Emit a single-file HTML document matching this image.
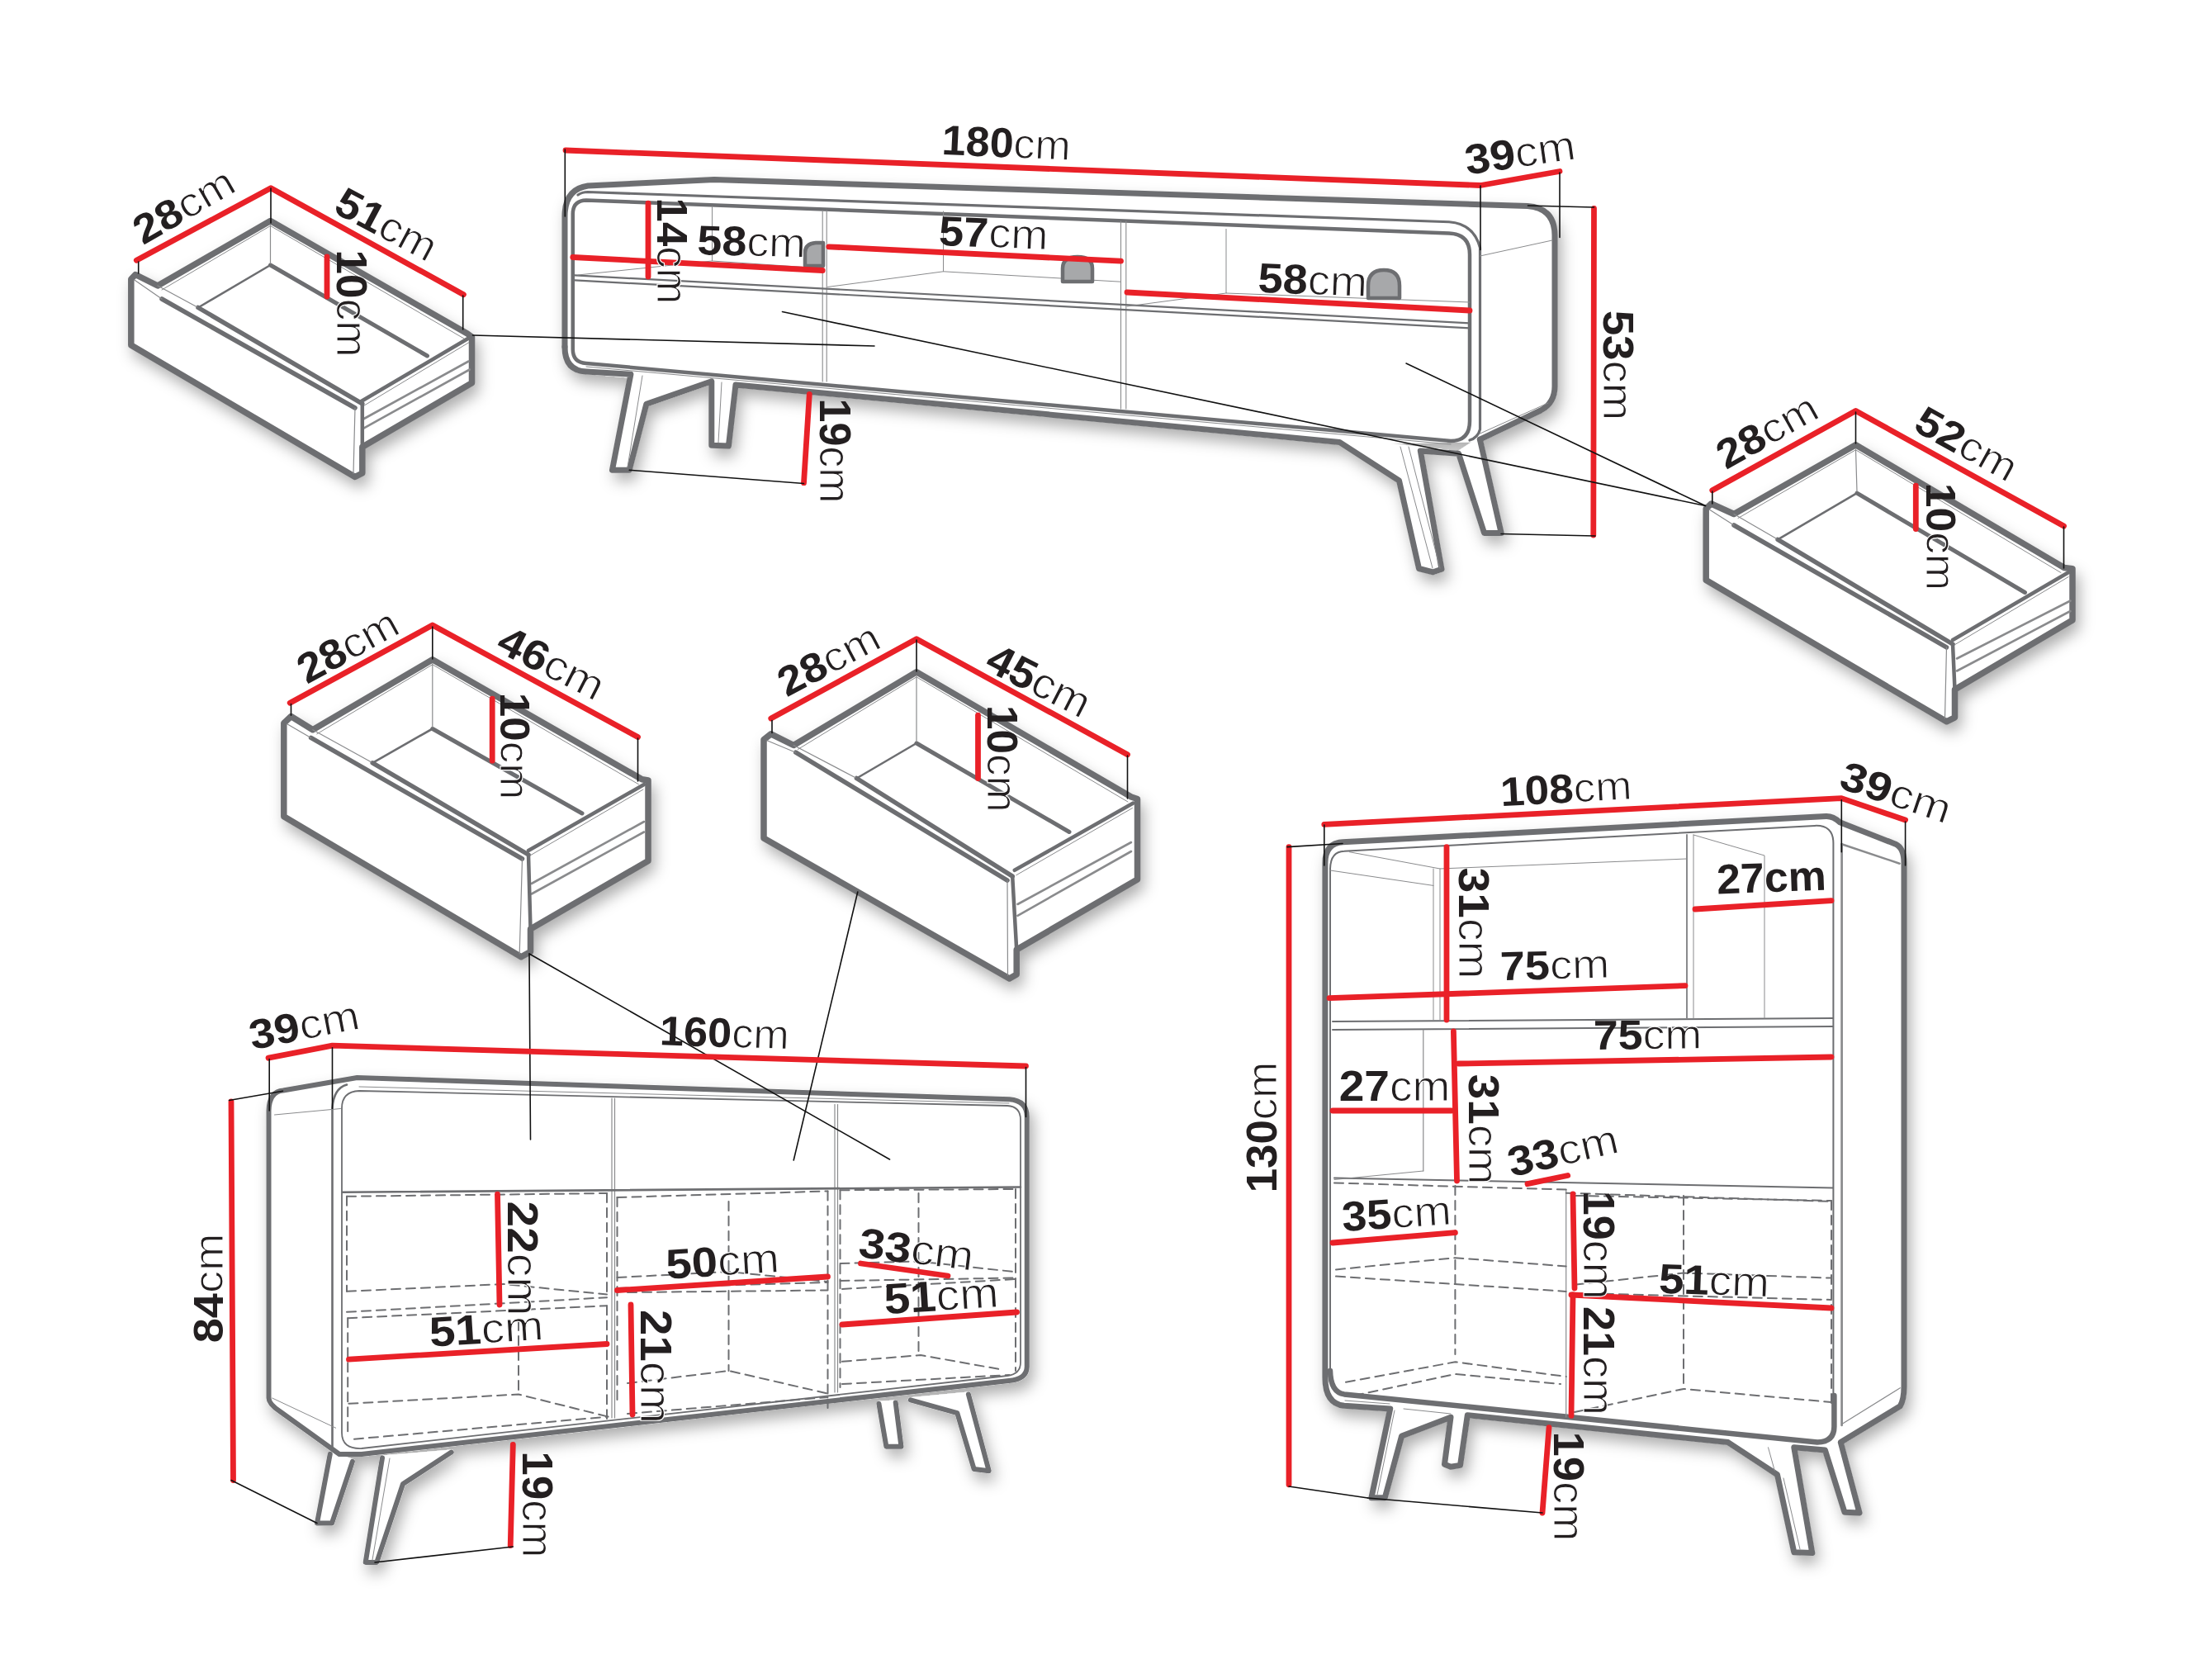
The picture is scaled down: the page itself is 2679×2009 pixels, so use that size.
<!DOCTYPE html>
<html><head><meta charset="utf-8"><style>html,body{margin:0;padding:0;background:#fff;overflow:hidden}svg{display:block}</style></head>
<body><svg xmlns="http://www.w3.org/2000/svg" width="2679" height="2009" viewBox="0 0 2679 2009">
<defs><filter id="sh" x="-10%" y="-10%" width="120%" height="130%"><feDropShadow dx="5" dy="10" stdDeviation="9" flood-color="#000" flood-opacity="0.32"/></filter></defs>
<rect width="2679" height="2009" fill="#fff"/>
<g filter="url(#sh)">
<path d="M158.8,418 L158.8,338 L164,332.5 L191,346 L327.5,267.5 L566,404 L571.5,408 L571.5,463.8 L438.8,541.2 L438.8,573 L430,577.5 L158.8,418 Z" fill="#fff" stroke="#fff" stroke-width="6" stroke-linejoin="round"/>
<path d="M2066.2,702.5 L2066.2,616 L2072.5,610 L2100,622.5 L2247.5,538.8 L2500,687.5 L2510,688.8 L2510,751 L2367.5,835 L2367.5,868.8 L2357.5,873.8 L2066.2,702.5 Z" fill="#fff" stroke="#fff" stroke-width="6" stroke-linejoin="round"/>
<path d="M343.8,988.8 L343.8,875.8 L352.5,867.5 L378.8,883.8 L523.8,798.8 L777.5,943.8 L785,945 L785,1042.5 L642.5,1125 L642.5,1152.5 L631.2,1158.8 L343.8,988.8 Z" fill="#fff" stroke="#fff" stroke-width="6" stroke-linejoin="round"/>
<path d="M925,1015 L925,895.8 L933.8,888.8 L961.2,902.5 L1110,813.8 L1370,965 L1377.5,967.5 L1377.5,1065 L1231.2,1150 L1231.2,1180 L1222.5,1185 L925,1015 Z" fill="#fff" stroke="#fff" stroke-width="6" stroke-linejoin="round"/>
<path d="M684,420 L684,262 Q684,229 712,225 L865,217.5 L1850,249.5 Q1883,252 1883,285 L1883,468 Q1883,488 1866,497 L1792.4,532.2 L1622.3,535.4 L891,465.9 L710,450 Q684,449 684,420 Z" fill="#fff" stroke="#fff" stroke-width="6" stroke-linejoin="round"/>
<path d="M763.9,453.3 L741.5,569.2 L762.2,569.2 L782.8,489.3 L861.8,461.8 L861.8,455 Z" fill="#fff" stroke="#fff" stroke-width="6" stroke-linejoin="round"/>
<path d="M861.8,461.8 L861.8,539.2 L882.4,540 L891,465 Z" fill="#fff" stroke="#fff" stroke-width="6" stroke-linejoin="round"/>
<path d="M1622.3,533 L1694.5,582 L1718.5,688.5 L1735.7,692.8 L1746,689.3 L1720.3,545.9 L1766.6,549.3 Z" fill="#fff" stroke="#fff" stroke-width="6" stroke-linejoin="round"/>
<path d="M1766.6,549.3 L1797.6,645.5 L1818.2,645.5 L1792.4,532.2 Z" fill="#fff" stroke="#fff" stroke-width="6" stroke-linejoin="round"/>
<path d="M325.5,1693 L325.5,1345 Q326,1322 343,1320.5 L432.5,1305 L1222.5,1331.25 Q1243.75,1333 1243.75,1352 L1243.75,1655 Q1243.75,1670 1222,1672 L438,1761 L411,1761 L338.8,1709 Q325.5,1700 325.5,1693 Z" fill="#fff" stroke="#fff" stroke-width="6" stroke-linejoin="round"/>
<path d="M399.8,1760.8 L384,1844.5 L402,1844.5 L426.9,1769.9 Z" fill="#fff" stroke="#fff" stroke-width="6" stroke-linejoin="round"/>
<path d="M463,1765.4 L442.7,1891.9 L456.3,1891.9 L488,1797 L546.7,1758.6 Z" fill="#fff" stroke="#fff" stroke-width="6" stroke-linejoin="round"/>
<path d="M1064.4,1699.8 L1073.4,1751.8 L1091.5,1751.8 L1084.7,1698.4 Z" fill="#fff" stroke="#fff" stroke-width="6" stroke-linejoin="round"/>
<path d="M1102.8,1695.3 L1159.3,1711.1 L1179.6,1778.9 L1197.7,1781.2 L1172.9,1688.5 Z" fill="#fff" stroke="#fff" stroke-width="6" stroke-linejoin="round"/>
<path d="M1604.9,1045 Q1605,1021 1626.2,1019.8 L2211.4,988.4 Q2220,988 2228.2,995.7 L2295.8,1022.2 Q2306,1027 2306,1045 L2306,1679 Q2306,1695 2301.3,1702.7 L2229.3,1746.6 L2252,1832 L2234,1831.2 L2210.4,1756 L2172.8,1752.8 L2194.8,1880.6 L2172.8,1879.8 L2152.5,1785.7 L2092.9,1746.6 L1777.3,1713.7 L1768.5,1774.4 L1757,1776.3 L1749.5,1773.2 L1757,1716.2 L1697.6,1739 L1677.3,1813.7 L1660.9,1813.7 L1683.7,1706 L1628,1702.3 Q1604.9,1700 1604.9,1668 Z" fill="#fff" stroke="#fff" stroke-width="6" stroke-linejoin="round"/>
</g>
<g>
<polygon points="158.8,418 158.8,338 164,332.5 191,346 327.5,267.5 566,404 571.5,408 571.5,463.8 438.8,541.2 438.8,573 430,577.5 158.8,418" fill="none" stroke="#6d6e71" stroke-width="7.5" stroke-linejoin="round" stroke-linecap="round"/>
<polyline points="196,362 430,494" fill="none" stroke="#6d6e71" stroke-width="5.5" stroke-linejoin="round" stroke-linecap="round"/>
<polyline points="240,372.5 438.8,488.8" fill="none" stroke="#6d6e71" stroke-width="5.5" stroke-linejoin="round" stroke-linecap="round"/>
<polyline points="162.8,339 196,362" fill="none" stroke="#8a8b8d" stroke-width="1.2" stroke-linejoin="round" stroke-linecap="round"/>
<polyline points="191,346 240,372.5" fill="none" stroke="#8a8b8d" stroke-width="1.2" stroke-linejoin="round" stroke-linecap="round"/>
<polyline points="240,372.5 327.5,321" fill="none" stroke="#6d6e71" stroke-width="2.6" stroke-linejoin="round" stroke-linecap="round"/>
<polyline points="327.5,321 517.5,431" fill="none" stroke="#6d6e71" stroke-width="5" stroke-linejoin="round" stroke-linecap="round"/>
<polyline points="327.5,272.5 327.5,319" fill="none" stroke="#8a8b8d" stroke-width="1.2" stroke-linejoin="round" stroke-linecap="round"/>
<polyline points="196,351 327.5,273.5 562,410" fill="none" stroke="#8a8b8d" stroke-width="1.0" stroke-linejoin="round" stroke-linecap="round"/>
<polyline points="437.5,486 568.8,408.8" fill="none" stroke="#6d6e71" stroke-width="4.5" stroke-linejoin="round" stroke-linecap="round"/>
<polyline points="439.5,492 567.8,414.8" fill="none" stroke="#8a8b8d" stroke-width="1.0" stroke-linejoin="round" stroke-linecap="round"/>
<polyline points="440,507.5 567.5,437.5" fill="none" stroke="#8a8b8d" stroke-width="2.6" stroke-linejoin="round" stroke-linecap="round"/>
<polyline points="440,518.8 568.8,447.5" fill="none" stroke="#8a8b8d" stroke-width="2.6" stroke-linejoin="round" stroke-linecap="round"/>
<polyline points="430,494 428,573.5" fill="none" stroke="#8a8b8d" stroke-width="1.2" stroke-linejoin="round" stroke-linecap="round"/>
<polyline points="438.8,488.8 438.8,541.2" fill="none" stroke="#6d6e71" stroke-width="4.5" stroke-linejoin="round" stroke-linecap="round"/>
<polygon points="2066.2,702.5 2066.2,616 2072.5,610 2100,622.5 2247.5,538.8 2500,687.5 2510,688.8 2510,751 2367.5,835 2367.5,868.8 2357.5,873.8 2066.2,702.5" fill="none" stroke="#6d6e71" stroke-width="7.5" stroke-linejoin="round" stroke-linecap="round"/>
<polyline points="2100,636 2357.5,783.8" fill="none" stroke="#6d6e71" stroke-width="5.5" stroke-linejoin="round" stroke-linecap="round"/>
<polyline points="2153.1,653.3 2365,780" fill="none" stroke="#6d6e71" stroke-width="5.5" stroke-linejoin="round" stroke-linecap="round"/>
<polyline points="2070.2,617 2100,636" fill="none" stroke="#8a8b8d" stroke-width="1.2" stroke-linejoin="round" stroke-linecap="round"/>
<polyline points="2100,622.5 2153.1,653.3" fill="none" stroke="#8a8b8d" stroke-width="1.2" stroke-linejoin="round" stroke-linecap="round"/>
<polyline points="2153.1,653.3 2249,597.2" fill="none" stroke="#6d6e71" stroke-width="2.6" stroke-linejoin="round" stroke-linecap="round"/>
<polyline points="2249,597.2 2452.5,717.5" fill="none" stroke="#6d6e71" stroke-width="5" stroke-linejoin="round" stroke-linecap="round"/>
<polyline points="2247.5,543.8 2249,595.2" fill="none" stroke="#8a8b8d" stroke-width="1.2" stroke-linejoin="round" stroke-linecap="round"/>
<polyline points="2105,627.5 2247.5,544.8 2496,693.5" fill="none" stroke="#8a8b8d" stroke-width="1.0" stroke-linejoin="round" stroke-linecap="round"/>
<polyline points="2365,775 2506.2,692.5" fill="none" stroke="#6d6e71" stroke-width="4.5" stroke-linejoin="round" stroke-linecap="round"/>
<polyline points="2367,781 2505.2,698.5" fill="none" stroke="#8a8b8d" stroke-width="1.0" stroke-linejoin="round" stroke-linecap="round"/>
<polyline points="2370,797.5 2507.5,727.5" fill="none" stroke="#8a8b8d" stroke-width="2.6" stroke-linejoin="round" stroke-linecap="round"/>
<polyline points="2370,812.5 2507.5,740" fill="none" stroke="#8a8b8d" stroke-width="2.6" stroke-linejoin="round" stroke-linecap="round"/>
<polyline points="2357.5,783.8 2355.5,869.8" fill="none" stroke="#8a8b8d" stroke-width="1.2" stroke-linejoin="round" stroke-linecap="round"/>
<polyline points="2365,780 2367.5,835" fill="none" stroke="#6d6e71" stroke-width="4.5" stroke-linejoin="round" stroke-linecap="round"/>
<polygon points="343.8,988.8 343.8,875.8 352.5,867.5 378.8,883.8 523.8,798.8 777.5,943.8 785,945 785,1042.5 642.5,1125 642.5,1152.5 631.2,1158.8 343.8,988.8" fill="none" stroke="#6d6e71" stroke-width="7.5" stroke-linejoin="round" stroke-linecap="round"/>
<polyline points="376.6,893.4 632.5,1040" fill="none" stroke="#6d6e71" stroke-width="5.5" stroke-linejoin="round" stroke-linecap="round"/>
<polyline points="451.2,923.8 640,1035" fill="none" stroke="#6d6e71" stroke-width="5.5" stroke-linejoin="round" stroke-linecap="round"/>
<polyline points="347.8,876.8 376.6,893.4" fill="none" stroke="#8a8b8d" stroke-width="1.2" stroke-linejoin="round" stroke-linecap="round"/>
<polyline points="378.8,883.8 451.2,923.8" fill="none" stroke="#8a8b8d" stroke-width="1.2" stroke-linejoin="round" stroke-linecap="round"/>
<polyline points="451.2,923.8 523.8,882.5" fill="none" stroke="#6d6e71" stroke-width="2.6" stroke-linejoin="round" stroke-linecap="round"/>
<polyline points="523.8,882.5 705,985" fill="none" stroke="#6d6e71" stroke-width="5" stroke-linejoin="round" stroke-linecap="round"/>
<polyline points="523.8,803.8 523.8,880.5" fill="none" stroke="#8a8b8d" stroke-width="1.2" stroke-linejoin="round" stroke-linecap="round"/>
<polyline points="383.8,888.8 523.8,804.8 773.5,949.8" fill="none" stroke="#8a8b8d" stroke-width="1.0" stroke-linejoin="round" stroke-linecap="round"/>
<polyline points="640,1030 780,950" fill="none" stroke="#6d6e71" stroke-width="4.5" stroke-linejoin="round" stroke-linecap="round"/>
<polyline points="642,1036 779,956" fill="none" stroke="#8a8b8d" stroke-width="1.0" stroke-linejoin="round" stroke-linecap="round"/>
<polyline points="643.8,1070 780,995" fill="none" stroke="#8a8b8d" stroke-width="2.6" stroke-linejoin="round" stroke-linecap="round"/>
<polyline points="643.8,1082.5 780,1007.5" fill="none" stroke="#8a8b8d" stroke-width="2.6" stroke-linejoin="round" stroke-linecap="round"/>
<polyline points="632.5,1040 629.2,1154.8" fill="none" stroke="#8a8b8d" stroke-width="1.2" stroke-linejoin="round" stroke-linecap="round"/>
<polyline points="640,1035 642.5,1125" fill="none" stroke="#6d6e71" stroke-width="4.5" stroke-linejoin="round" stroke-linecap="round"/>
<polygon points="925,1015 925,895.8 933.8,888.8 961.2,902.5 1110,813.8 1370,965 1377.5,967.5 1377.5,1065 1231.2,1150 1231.2,1180 1222.5,1185 925,1015" fill="none" stroke="#6d6e71" stroke-width="7.5" stroke-linejoin="round" stroke-linecap="round"/>
<polyline points="963.8,911.2 1220,1066.2" fill="none" stroke="#6d6e71" stroke-width="5.5" stroke-linejoin="round" stroke-linecap="round"/>
<polyline points="1037.5,942.5 1226.2,1061.2" fill="none" stroke="#6d6e71" stroke-width="5.5" stroke-linejoin="round" stroke-linecap="round"/>
<polyline points="929,896.8 963.8,911.2" fill="none" stroke="#8a8b8d" stroke-width="1.2" stroke-linejoin="round" stroke-linecap="round"/>
<polyline points="961.2,902.5 1037.5,942.5" fill="none" stroke="#8a8b8d" stroke-width="1.2" stroke-linejoin="round" stroke-linecap="round"/>
<polyline points="1037.5,942.5 1110,900" fill="none" stroke="#6d6e71" stroke-width="2.6" stroke-linejoin="round" stroke-linecap="round"/>
<polyline points="1110,900 1295,1007.5" fill="none" stroke="#6d6e71" stroke-width="5" stroke-linejoin="round" stroke-linecap="round"/>
<polyline points="1110,818.8 1110,898" fill="none" stroke="#8a8b8d" stroke-width="1.2" stroke-linejoin="round" stroke-linecap="round"/>
<polyline points="966.2,907.5 1110,819.8 1366,971" fill="none" stroke="#8a8b8d" stroke-width="1.0" stroke-linejoin="round" stroke-linecap="round"/>
<polyline points="1228.8,1053.8 1372.5,972.5" fill="none" stroke="#6d6e71" stroke-width="4.5" stroke-linejoin="round" stroke-linecap="round"/>
<polyline points="1230.8,1059.8 1371.5,978.5" fill="none" stroke="#8a8b8d" stroke-width="1.0" stroke-linejoin="round" stroke-linecap="round"/>
<polyline points="1232.5,1095 1370,1020" fill="none" stroke="#8a8b8d" stroke-width="2.6" stroke-linejoin="round" stroke-linecap="round"/>
<polyline points="1232.5,1108.8 1370,1031" fill="none" stroke="#8a8b8d" stroke-width="2.6" stroke-linejoin="round" stroke-linecap="round"/>
<polyline points="1220,1066.2 1220.5,1181" fill="none" stroke="#8a8b8d" stroke-width="1.2" stroke-linejoin="round" stroke-linecap="round"/>
<polyline points="1226.2,1061.2 1231.2,1150" fill="none" stroke="#6d6e71" stroke-width="4.5" stroke-linejoin="round" stroke-linecap="round"/>
<path d="M684,420 L684,262 Q684,229 712,225 L865,217.5 L1850,249.5 Q1883,252 1883,285 L1883,468 Q1883,488 1866,497 L1792.4,532.2" fill="none" stroke="#6d6e71" stroke-width="7" stroke-linejoin="round" stroke-linecap="round"/>
<path d="M684,420 Q684,449 710,450 L763.9,453.3 L741.5,569.2 L762.2,569.2 L782.8,489.3 L861.8,461.8 L861.8,539.2 L882.4,540 L891,465.9 L1622.3,535.4 L1694.5,582 L1718.5,688.5 L1735.7,692.8 L1746,689.3 L1720.3,545.9 L1766.6,549.3 L1797.6,645.5 L1818.2,645.5 L1792.4,532.2" fill="none" stroke="#6d6e71" stroke-width="7" stroke-linejoin="round" stroke-linecap="round"/>
<path d="M710,242.5 L1755,282.5 Q1780,283.5 1780,308 L1780,510 Q1780,534 1757,534 L710,440 Q693.75,439 693.75,423 L693.75,259 Q693.75,243 710,242.5 Z" fill="none" stroke="#6d6e71" stroke-width="4.5" stroke-linejoin="round" stroke-linecap="round"/>
<path d="M700,236 Q705,232.5 712,232.5 L1755,268.75 Q1785,271 1792.5,300 L1792.5,520 Q1790,530 1780,533" fill="none" stroke="#6d6e71" stroke-width="3.2" stroke-linejoin="round" stroke-linecap="round"/>
<polyline points="1792.5,310 1880,291" fill="none" stroke="#8a8b8d" stroke-width="1.0" stroke-linejoin="round" stroke-linecap="round"/>
<polyline points="1792.5,525 1875,488" fill="none" stroke="#8a8b8d" stroke-width="1.0" stroke-linejoin="round" stroke-linecap="round"/>
<polyline points="778,455 760,566" fill="none" stroke="#8a8b8d" stroke-width="1.0" stroke-linejoin="round" stroke-linecap="round"/>
<polyline points="874,463 870,536" fill="none" stroke="#8a8b8d" stroke-width="1.0" stroke-linejoin="round" stroke-linecap="round"/>
<polyline points="1696,541 1735,688" fill="none" stroke="#8a8b8d" stroke-width="1.0" stroke-linejoin="round" stroke-linecap="round"/>
<polyline points="1706,541 1744,688" fill="none" stroke="#8a8b8d" stroke-width="1.0" stroke-linejoin="round" stroke-linecap="round"/>
<polyline points="996.2,255 996.2,462" fill="none" stroke="#8a8b8d" stroke-width="1.1" stroke-linejoin="round" stroke-linecap="round"/>
<polyline points="1001.2,255 1001.2,462" fill="none" stroke="#8a8b8d" stroke-width="1.1" stroke-linejoin="round" stroke-linecap="round"/>
<polyline points="1357.5,268 1357.5,495" fill="none" stroke="#8a8b8d" stroke-width="1.1" stroke-linejoin="round" stroke-linecap="round"/>
<polyline points="1363.8,268 1363.8,495" fill="none" stroke="#8a8b8d" stroke-width="1.1" stroke-linejoin="round" stroke-linecap="round"/>
<polyline points="696,333.4 1780,391.4" fill="none" stroke="#6d6e71" stroke-width="2.2" stroke-linejoin="round" stroke-linecap="round"/>
<polyline points="696,339.4 1780,397.4" fill="none" stroke="#6d6e71" stroke-width="2.2" stroke-linejoin="round" stroke-linecap="round"/>
<polyline points="862.5,250 862.5,316 996,325" fill="none" stroke="#8a8b8d" stroke-width="1.0" stroke-linejoin="round" stroke-linecap="round"/>
<polyline points="862.5,316 700,333" fill="none" stroke="#8a8b8d" stroke-width="1.0" stroke-linejoin="round" stroke-linecap="round"/>
<polyline points="1142.5,256 1142.5,328.8 1357.5,341.2" fill="none" stroke="#8a8b8d" stroke-width="1.0" stroke-linejoin="round" stroke-linecap="round"/>
<polyline points="1142.5,328.8 1002.5,347.5" fill="none" stroke="#8a8b8d" stroke-width="1.0" stroke-linejoin="round" stroke-linecap="round"/>
<polyline points="1485,277.5 1485,355 1780,366" fill="none" stroke="#8a8b8d" stroke-width="1.0" stroke-linejoin="round" stroke-linecap="round"/>
<polyline points="1485,355 1365,371" fill="none" stroke="#8a8b8d" stroke-width="1.0" stroke-linejoin="round" stroke-linecap="round"/>
<polyline points="710,444 1757,538" fill="none" stroke="#8a8b8d" stroke-width="1.0" stroke-linejoin="round" stroke-linecap="round"/>
<path d="M975,322 L975,306 Q975,295 988,294 L997,294 L997,322 Z" fill="#a7a8aa" stroke="#6d6e71" stroke-width="4.5" stroke-linejoin="round" stroke-linecap="round"/>
<path d="M1287,341 L1287,325 Q1287,311 1305,311 Q1323,311 1323,325 L1323,341 Z" fill="#a7a8aa" stroke="#6d6e71" stroke-width="4.5" stroke-linejoin="round" stroke-linecap="round"/>
<path d="M1657,361 L1657,346 Q1657,327 1676,327 Q1695,327 1695,346 L1695,361 Z" fill="#a7a8aa" stroke="#6d6e71" stroke-width="4.5" stroke-linejoin="round" stroke-linecap="round"/>
<path d="M325.5,1693 L325.5,1345 Q326,1322 343,1320.5 L432.5,1305 L1222.5,1331.25 Q1243.75,1333 1243.75,1352 L1243.75,1655 Q1243.75,1670 1222,1672 L438,1761 L411,1761 L338.8,1709 Q325.5,1700 325.5,1693 Z" fill="none" stroke="#6d6e71" stroke-width="6" stroke-linejoin="round" stroke-linecap="round"/>
<path d="M402.5,1755 L402.5,1342 Q404,1318 420,1313.5" fill="none" stroke="#6d6e71" stroke-width="2.6" stroke-linejoin="round" stroke-linecap="round"/>
<path d="M435,1321 L1220,1339 Q1236,1340 1236,1356 L1236,1650 Q1236,1664 1220,1666 L438,1754 Q414,1755 414,1735 L414,1342 Q414,1322 435,1321 Z" fill="none" stroke="#6d6e71" stroke-width="1.8" stroke-linejoin="round" stroke-linecap="round"/>
<polyline points="435,1316 1222,1336" fill="none" stroke="#8a8b8d" stroke-width="1.0" stroke-linejoin="round" stroke-linecap="round"/>
<polyline points="332.5,1350 412.5,1342.5" fill="none" stroke="#8a8b8d" stroke-width="1.0" stroke-linejoin="round" stroke-linecap="round"/>
<polyline points="329.7,1693 406.6,1729.2" fill="none" stroke="#8a8b8d" stroke-width="1.0" stroke-linejoin="round" stroke-linecap="round"/>
<polyline points="741,1330 741,1717" fill="none" stroke="#8a8b8d" stroke-width="1.2" stroke-linejoin="round" stroke-linecap="round"/>
<polyline points="744.5,1330 744.5,1717" fill="none" stroke="#8a8b8d" stroke-width="1.2" stroke-linejoin="round" stroke-linecap="round"/>
<polyline points="1011,1337.5 1011,1686" fill="none" stroke="#8a8b8d" stroke-width="1.2" stroke-linejoin="round" stroke-linecap="round"/>
<polyline points="1014.5,1337.5 1014.5,1686" fill="none" stroke="#8a8b8d" stroke-width="1.2" stroke-linejoin="round" stroke-linecap="round"/>
<polyline points="415,1443.8 1236,1437.5" fill="none" stroke="#6d6e71" stroke-width="2.6" stroke-linejoin="round" stroke-linecap="round"/>
<polyline points="420,1448.8 735,1445" fill="none" stroke="#6d6e71" stroke-width="2" stroke-linejoin="round" stroke-linecap="round" stroke-dasharray="11 7"/>
<polyline points="420,1448.8 420,1563.8" fill="none" stroke="#6d6e71" stroke-width="2" stroke-linejoin="round" stroke-linecap="round" stroke-dasharray="11 7"/>
<polyline points="735,1445 735,1567.5" fill="none" stroke="#6d6e71" stroke-width="2" stroke-linejoin="round" stroke-linecap="round" stroke-dasharray="11 7"/>
<polyline points="420,1563.8 610,1555 735,1567.5" fill="none" stroke="#6d6e71" stroke-width="2" stroke-linejoin="round" stroke-linecap="round" stroke-dasharray="11 7"/>
<polyline points="420,1588.8 735,1571.2" fill="none" stroke="#6d6e71" stroke-width="2" stroke-linejoin="round" stroke-linecap="round" stroke-dasharray="11 7"/>
<polyline points="421.2,1596.2 735,1581.2" fill="none" stroke="#6d6e71" stroke-width="2" stroke-linejoin="round" stroke-linecap="round" stroke-dasharray="11 7"/>
<polyline points="421.2,1596.2 421.2,1740" fill="none" stroke="#6d6e71" stroke-width="2" stroke-linejoin="round" stroke-linecap="round" stroke-dasharray="11 7"/>
<polyline points="735,1581.2 735,1718" fill="none" stroke="#6d6e71" stroke-width="2" stroke-linejoin="round" stroke-linecap="round" stroke-dasharray="11 7"/>
<polyline points="422.4,1699.8 628,1688.5 736.6,1715.6" fill="none" stroke="#6d6e71" stroke-width="2" stroke-linejoin="round" stroke-linecap="round" stroke-dasharray="11 7"/>
<polyline points="628,1600 628,1688.5" fill="none" stroke="#6d6e71" stroke-width="2" stroke-linejoin="round" stroke-linecap="round" stroke-dasharray="11 7"/>
<polyline points="429,1742.7 736.6,1715.6" fill="none" stroke="#6d6e71" stroke-width="2" stroke-linejoin="round" stroke-linecap="round" stroke-dasharray="11 7"/>
<polyline points="747.5,1450 1002.5,1442.5" fill="none" stroke="#6d6e71" stroke-width="2" stroke-linejoin="round" stroke-linecap="round" stroke-dasharray="11 7"/>
<polyline points="747.5,1450 747.5,1700" fill="none" stroke="#6d6e71" stroke-width="2" stroke-linejoin="round" stroke-linecap="round" stroke-dasharray="11 7"/>
<polyline points="1002.5,1442.5 1002.5,1705" fill="none" stroke="#6d6e71" stroke-width="2" stroke-linejoin="round" stroke-linecap="round" stroke-dasharray="11 7"/>
<polyline points="882.5,1455 882.5,1660" fill="none" stroke="#6d6e71" stroke-width="2" stroke-linejoin="round" stroke-linecap="round" stroke-dasharray="11 7"/>
<polyline points="747.5,1547 882.5,1540 1002.5,1552" fill="none" stroke="#6d6e71" stroke-width="2" stroke-linejoin="round" stroke-linecap="round" stroke-dasharray="11 7"/>
<polyline points="747.5,1560 1002.5,1553" fill="none" stroke="#6d6e71" stroke-width="2" stroke-linejoin="round" stroke-linecap="round" stroke-dasharray="11 7"/>
<polyline points="760,1565 1002.5,1562.5" fill="none" stroke="#6d6e71" stroke-width="2" stroke-linejoin="round" stroke-linecap="round" stroke-dasharray="11 7"/>
<polyline points="760,1675 882.5,1660 1002.5,1687.5" fill="none" stroke="#6d6e71" stroke-width="2" stroke-linejoin="round" stroke-linecap="round" stroke-dasharray="11 7"/>
<polyline points="760,1712 1002.5,1692" fill="none" stroke="#6d6e71" stroke-width="2" stroke-linejoin="round" stroke-linecap="round" stroke-dasharray="11 7"/>
<polyline points="1017.5,1441.2 1230,1440" fill="none" stroke="#6d6e71" stroke-width="2" stroke-linejoin="round" stroke-linecap="round" stroke-dasharray="11 7"/>
<polyline points="1017.5,1441.2 1017.5,1680" fill="none" stroke="#6d6e71" stroke-width="2" stroke-linejoin="round" stroke-linecap="round" stroke-dasharray="11 7"/>
<polyline points="1230,1440 1230,1660" fill="none" stroke="#6d6e71" stroke-width="2" stroke-linejoin="round" stroke-linecap="round" stroke-dasharray="11 7"/>
<polyline points="1112.5,1445 1112.5,1640" fill="none" stroke="#6d6e71" stroke-width="2" stroke-linejoin="round" stroke-linecap="round" stroke-dasharray="11 7"/>
<polyline points="1017.5,1530 1112.5,1527.5 1227.5,1540" fill="none" stroke="#6d6e71" stroke-width="2" stroke-linejoin="round" stroke-linecap="round" stroke-dasharray="11 7"/>
<polyline points="1017.5,1551 1230,1547.5" fill="none" stroke="#6d6e71" stroke-width="2" stroke-linejoin="round" stroke-linecap="round" stroke-dasharray="11 7"/>
<polyline points="1020,1561 1230,1549" fill="none" stroke="#6d6e71" stroke-width="2" stroke-linejoin="round" stroke-linecap="round" stroke-dasharray="11 7"/>
<polyline points="1020,1648.8 1115,1641 1215,1658.8" fill="none" stroke="#6d6e71" stroke-width="2" stroke-linejoin="round" stroke-linecap="round" stroke-dasharray="11 7"/>
<polyline points="1020,1676 1222.5,1665" fill="none" stroke="#6d6e71" stroke-width="2" stroke-linejoin="round" stroke-linecap="round" stroke-dasharray="11 7"/>
<polyline points="399.8,1760.8 384,1844.5 402,1844.5 426.9,1769.9" fill="none" stroke="#6d6e71" stroke-width="6" stroke-linejoin="round" stroke-linecap="round"/>
<polyline points="463,1765.4 442.7,1891.9 456.3,1891.9 488,1797 546.7,1758.6" fill="none" stroke="#6d6e71" stroke-width="6" stroke-linejoin="round" stroke-linecap="round"/>
<polyline points="472,1766 451,1889" fill="none" stroke="#8a8b8d" stroke-width="1.0" stroke-linejoin="round" stroke-linecap="round"/>
<polyline points="1064.4,1699.8 1073.4,1751.8 1091.5,1751.8 1084.7,1698.4" fill="none" stroke="#6d6e71" stroke-width="6" stroke-linejoin="round" stroke-linecap="round"/>
<polyline points="1102.8,1695.3 1159.3,1711.1 1179.6,1778.9 1197.7,1781.2 1172.9,1688.5" fill="none" stroke="#6d6e71" stroke-width="6" stroke-linejoin="round" stroke-linecap="round"/>
<path d="M1604.9,1045 Q1605,1021 1626.2,1019.8 L2211.4,988.4 Q2220,988 2228.2,995.7 L2295.8,1022.2 Q2306,1027 2306,1045 L2306,1679 Q2306,1695 2301.3,1702.7 L2229.3,1746.6 L2252,1832 L2234,1831.2 L2210.4,1756 L2172.8,1752.8 L2194.8,1880.6 L2172.8,1879.8 L2152.5,1785.7 L2092.9,1746.6 L1777.3,1713.7 L1768.5,1774.4 L1757,1776.3 L1749.5,1773.2 L1757,1716.2 L1697.6,1739 L1677.3,1813.7 L1660.9,1813.7 L1683.7,1706 L1628,1702.3 Q1604.9,1700 1604.9,1668 Z" fill="none" stroke="#6d6e71" stroke-width="7" stroke-linejoin="round" stroke-linecap="round"/>
<path d="M1611,1668 L1611,1052 Q1611.5,1031 1628,1030.7 L2198,999.9 Q2220.4,999 2220.4,1021 L2220.4,1700" fill="none" stroke="#6d6e71" stroke-width="2.0" stroke-linejoin="round" stroke-linecap="round"/>
<path d="M1611,1660 Q1611.5,1686 1628,1688.4 L2201,1746.6 Q2221.4,1746 2221.4,1727.8 L2221.4,1690" fill="none" stroke="#6d6e71" stroke-width="6.5" stroke-linejoin="round" stroke-linecap="round"/>
<polyline points="2230.6,1022.2 2230.6,1726" fill="none" stroke="#8a8b8d" stroke-width="2.7" stroke-linejoin="round" stroke-linecap="round"/>
<polyline points="2230.6,1022.2 2300.6,1045.7" fill="none" stroke="#8a8b8d" stroke-width="2.5" stroke-linejoin="round" stroke-linecap="round"/>
<polyline points="2230.8,1724.6 2301.3,1680.7" fill="none" stroke="#8a8b8d" stroke-width="1.2" stroke-linejoin="round" stroke-linecap="round"/>
<polyline points="1689,1708 1668,1810" fill="none" stroke="#8a8b8d" stroke-width="1.0" stroke-linejoin="round" stroke-linecap="round"/>
<polyline points="2141.5,1752.8 2149.3,1781" fill="none" stroke="#8a8b8d" stroke-width="1.0" stroke-linejoin="round" stroke-linecap="round"/>
<polyline points="2160,1790 2180,1876" fill="none" stroke="#8a8b8d" stroke-width="1.0" stroke-linejoin="round" stroke-linecap="round"/>
<polyline points="1700,1706 1757,1712" fill="none" stroke="#8a8b8d" stroke-width="1.0" stroke-linejoin="round" stroke-linecap="round"/>
<polyline points="1629,1696 1683,1700" fill="none" stroke="#8a8b8d" stroke-width="1.0" stroke-linejoin="round" stroke-linecap="round"/>
<polyline points="1614,1237 2220,1233" fill="none" stroke="#6d6e71" stroke-width="2" stroke-linejoin="round" stroke-linecap="round"/>
<polyline points="1614,1247 2220,1243" fill="none" stroke="#6d6e71" stroke-width="2" stroke-linejoin="round" stroke-linecap="round"/>
<polyline points="2043,1011 2043,1233" fill="none" stroke="#8a8b8d" stroke-width="2" stroke-linejoin="round" stroke-linecap="round"/>
<polyline points="2051,1011 2051,1233" fill="none" stroke="#8a8b8d" stroke-width="1" stroke-linejoin="round" stroke-linecap="round"/>
<polyline points="2051,1011 2137,1036 2137,1233" fill="none" stroke="#8a8b8d" stroke-width="1.0" stroke-linejoin="round" stroke-linecap="round"/>
<polyline points="1634.3,1031.7 1744,1052 2043,1040" fill="none" stroke="#8a8b8d" stroke-width="1.0" stroke-linejoin="round" stroke-linecap="round"/>
<polyline points="1611,1054 1736,1072.4" fill="none" stroke="#8a8b8d" stroke-width="1.0" stroke-linejoin="round" stroke-linecap="round"/>
<polyline points="1736,1052 1736,1235" fill="none" stroke="#8a8b8d" stroke-width="1.0" stroke-linejoin="round" stroke-linecap="round"/>
<polyline points="1744,1052 1744,1235" fill="none" stroke="#8a8b8d" stroke-width="1.0" stroke-linejoin="round" stroke-linecap="round"/>
<polyline points="1616,1426.4 2220,1438.6" fill="none" stroke="#6d6e71" stroke-width="2" stroke-linejoin="round" stroke-linecap="round"/>
<polyline points="1616,1428.5 1723.8,1418" fill="none" stroke="#8a8b8d" stroke-width="1.0" stroke-linejoin="round" stroke-linecap="round"/>
<polyline points="1723.8,1247 1723.8,1418" fill="none" stroke="#8a8b8d" stroke-width="1.2" stroke-linejoin="round" stroke-linecap="round"/>
<polyline points="1896.7,1440.6 1896.7,1716" fill="none" stroke="#8a8b8d" stroke-width="1.2" stroke-linejoin="round" stroke-linecap="round"/>
<polyline points="1616,1432.5 1896.7,1440.6" fill="none" stroke="#6d6e71" stroke-width="2" stroke-linejoin="round" stroke-linecap="round" stroke-dasharray="11 7"/>
<polyline points="1896.7,1444.7 2218,1454.9" fill="none" stroke="#6d6e71" stroke-width="2" stroke-linejoin="round" stroke-linecap="round" stroke-dasharray="11 7"/>
<polyline points="1762.4,1436 1762.4,1640" fill="none" stroke="#6d6e71" stroke-width="2" stroke-linejoin="round" stroke-linecap="round" stroke-dasharray="11 7"/>
<polyline points="1618,1537.4 1762.4,1523.2 1896.7,1533.4" fill="none" stroke="#6d6e71" stroke-width="2" stroke-linejoin="round" stroke-linecap="round" stroke-dasharray="11 7"/>
<polyline points="1618,1545.6 1896.7,1563.9" fill="none" stroke="#6d6e71" stroke-width="2" stroke-linejoin="round" stroke-linecap="round" stroke-dasharray="11 7"/>
<polyline points="1630,1673.7 1762.4,1649.3 1896.7,1667" fill="none" stroke="#6d6e71" stroke-width="2" stroke-linejoin="round" stroke-linecap="round" stroke-dasharray="11 7"/>
<polyline points="1640,1690 1762.4,1664 1890,1676" fill="none" stroke="#6d6e71" stroke-width="2" stroke-linejoin="round" stroke-linecap="round" stroke-dasharray="11 7"/>
<polyline points="2039,1448 2039,1682" fill="none" stroke="#6d6e71" stroke-width="2" stroke-linejoin="round" stroke-linecap="round" stroke-dasharray="11 7"/>
<polyline points="2218,1454 2218,1700" fill="none" stroke="#6d6e71" stroke-width="2" stroke-linejoin="round" stroke-linecap="round" stroke-dasharray="11 7"/>
<polyline points="1906.9,1447.9 2218,1454" fill="none" stroke="#6d6e71" stroke-width="2" stroke-linejoin="round" stroke-linecap="round" stroke-dasharray="11 7"/>
<polyline points="1906.9,1555.7 2039,1541.5 2218,1547.6" fill="none" stroke="#6d6e71" stroke-width="2" stroke-linejoin="round" stroke-linecap="round" stroke-dasharray="11 7"/>
<polyline points="1906.9,1565.9 2218,1574" fill="none" stroke="#6d6e71" stroke-width="2" stroke-linejoin="round" stroke-linecap="round" stroke-dasharray="11 7"/>
<polyline points="1906.9,1710 2039,1681.9 2218,1698" fill="none" stroke="#6d6e71" stroke-width="2" stroke-linejoin="round" stroke-linecap="round" stroke-dasharray="11 7"/>
</g>
<g font-family="Liberation Sans, sans-serif" fill="#231f20">
<polyline points="165.3,315.2 328,227.7 561.4,356.7" fill="none" stroke="#e92128" stroke-width="6.8" stroke-linejoin="round" stroke-linecap="round" stroke-linecap="butt"/>
<polyline points="396,311 396,359" fill="none" stroke="#e92128" stroke-width="6.8" stroke-linejoin="round" stroke-linecap="round" stroke-linecap="butt"/>
<polyline points="167.7,317 167.7,331" fill="none" stroke="#111" stroke-width="1.6" stroke-linejoin="round" stroke-linecap="round"/>
<polyline points="328,228 328,270" fill="none" stroke="#111" stroke-width="1.6" stroke-linejoin="round" stroke-linecap="round"/>
<polyline points="560.7,358 560.7,399" fill="none" stroke="#111" stroke-width="1.6" stroke-linejoin="round" stroke-linecap="round"/>
<text transform="translate(222.4,249.2) rotate(-30)" y="17" font-size="49.3" text-anchor="middle" textLength="133.4" lengthAdjust="spacingAndGlyphs"><tspan font-weight="bold">28</tspan><tspan font-weight="normal" stroke="#fff" stroke-width="1.1">cm</tspan></text>
<text transform="translate(468.3,271.6) rotate(28)" y="17.5" font-size="50.7" text-anchor="middle" textLength="131.6" lengthAdjust="spacingAndGlyphs"><tspan font-weight="bold">51</tspan><tspan font-weight="normal" stroke="#fff" stroke-width="1.1">cm</tspan></text>
<text transform="translate(425.7,367.5) rotate(90)" y="18" font-size="52.2" text-anchor="middle" textLength="129.8" lengthAdjust="spacingAndGlyphs"><tspan font-weight="bold">10</tspan><tspan font-weight="normal" stroke="#fff" stroke-width="1.1">cm</tspan></text>
<polyline points="2073.8,593.8 2247.5,497.5 2499.5,637" fill="none" stroke="#e92128" stroke-width="6.8" stroke-linejoin="round" stroke-linecap="round" stroke-linecap="butt"/>
<polyline points="2320.3,588.2 2320.3,640.6" fill="none" stroke="#e92128" stroke-width="6.8" stroke-linejoin="round" stroke-linecap="round" stroke-linecap="butt"/>
<polyline points="2073.8,595 2073.8,610" fill="none" stroke="#111" stroke-width="1.6" stroke-linejoin="round" stroke-linecap="round"/>
<polyline points="2247.5,499 2247.5,537" fill="none" stroke="#111" stroke-width="1.6" stroke-linejoin="round" stroke-linecap="round"/>
<polyline points="2499.5,638 2499.5,688" fill="none" stroke="#111" stroke-width="1.6" stroke-linejoin="round" stroke-linecap="round"/>
<text transform="translate(2140,522) rotate(-29.3)" y="17" font-size="49.3" text-anchor="middle" textLength="132.4" lengthAdjust="spacingAndGlyphs"><tspan font-weight="bold">28</tspan><tspan font-weight="normal" stroke="#fff" stroke-width="1.1">cm</tspan></text>
<text transform="translate(2382,537.5) rotate(29)" y="17" font-size="49.3" text-anchor="middle" textLength="133.4" lengthAdjust="spacingAndGlyphs"><tspan font-weight="bold">52</tspan><tspan font-weight="normal" stroke="#fff" stroke-width="1.1">cm</tspan></text>
<text transform="translate(2350.3,650) rotate(90)" y="17.2" font-size="50" text-anchor="middle" textLength="130.5" lengthAdjust="spacingAndGlyphs"><tspan font-weight="bold">10</tspan><tspan font-weight="normal" stroke="#fff" stroke-width="1.1">cm</tspan></text>
<polyline points="351.2,851.2 523.8,757 772.5,892.5" fill="none" stroke="#e92128" stroke-width="6.8" stroke-linejoin="round" stroke-linecap="round" stroke-linecap="butt"/>
<polyline points="596.2,846.2 596.2,921.2" fill="none" stroke="#e92128" stroke-width="6.8" stroke-linejoin="round" stroke-linecap="round" stroke-linecap="butt"/>
<polyline points="352.5,852.5 352.5,866.2" fill="none" stroke="#111" stroke-width="1.6" stroke-linejoin="round" stroke-linecap="round"/>
<polyline points="523.8,759 523.8,798" fill="none" stroke="#111" stroke-width="1.6" stroke-linejoin="round" stroke-linecap="round"/>
<polyline points="772.5,894 772.5,946" fill="none" stroke="#111" stroke-width="1.6" stroke-linejoin="round" stroke-linecap="round"/>
<text transform="translate(421,782) rotate(-28.8)" y="17.4" font-size="50.3" text-anchor="middle" textLength="131.5" lengthAdjust="spacingAndGlyphs"><tspan font-weight="bold">28</tspan><tspan font-weight="normal" stroke="#fff" stroke-width="1.1">cm</tspan></text>
<text transform="translate(668,802.6) rotate(27)" y="17.5" font-size="50.7" text-anchor="middle" textLength="137.6" lengthAdjust="spacingAndGlyphs"><tspan font-weight="bold">46</tspan><tspan font-weight="normal" stroke="#fff" stroke-width="1.1">cm</tspan></text>
<text transform="translate(623.5,903.5) rotate(90)" y="17.2" font-size="50" text-anchor="middle" textLength="129.5" lengthAdjust="spacingAndGlyphs"><tspan font-weight="bold">10</tspan><tspan font-weight="normal" stroke="#fff" stroke-width="1.1">cm</tspan></text>
<polyline points="933.8,870 1110,773.8 1365.5,913.8" fill="none" stroke="#e92128" stroke-width="6.8" stroke-linejoin="round" stroke-linecap="round" stroke-linecap="butt"/>
<polyline points="1184.5,866.2 1184.5,942.5" fill="none" stroke="#e92128" stroke-width="6.8" stroke-linejoin="round" stroke-linecap="round" stroke-linecap="butt"/>
<polyline points="935,872.5 935,887.5" fill="none" stroke="#111" stroke-width="1.6" stroke-linejoin="round" stroke-linecap="round"/>
<polyline points="1110,775 1110,813" fill="none" stroke="#111" stroke-width="1.6" stroke-linejoin="round" stroke-linecap="round"/>
<polyline points="1365.5,915 1365.5,967" fill="none" stroke="#111" stroke-width="1.6" stroke-linejoin="round" stroke-linecap="round"/>
<text transform="translate(1003.5,798.8) rotate(-27.7)" y="17" font-size="49.3" text-anchor="middle" textLength="132.4" lengthAdjust="spacingAndGlyphs"><tspan font-weight="bold">28</tspan><tspan font-weight="normal" stroke="#fff" stroke-width="1.1">cm</tspan></text>
<text transform="translate(1258.5,824.2) rotate(27)" y="18" font-size="52.2" text-anchor="middle" textLength="133.8" lengthAdjust="spacingAndGlyphs"><tspan font-weight="bold">45</tspan><tspan font-weight="normal" stroke="#fff" stroke-width="1.1">cm</tspan></text>
<text transform="translate(1214.2,918.9) rotate(90)" y="17.7" font-size="51.3" text-anchor="middle" textLength="129.7" lengthAdjust="spacingAndGlyphs"><tspan font-weight="bold">10</tspan><tspan font-weight="normal" stroke="#fff" stroke-width="1.1">cm</tspan></text>
<polyline points="685,182 1793,224.5 1889,207.5" fill="none" stroke="#e92128" stroke-width="6.8" stroke-linejoin="round" stroke-linecap="round" stroke-linecap="butt"/>
<polyline points="1930.5,252.5 1929.8,648" fill="none" stroke="#e92128" stroke-width="6.8" stroke-linejoin="round" stroke-linecap="round" stroke-linecap="butt"/>
<polyline points="785,246.2 785,335" fill="none" stroke="#e92128" stroke-width="6.8" stroke-linejoin="round" stroke-linecap="round" stroke-linecap="butt"/>
<polyline points="693.8,311.5 996.2,327.5" fill="none" stroke="#e92128" stroke-width="6.8" stroke-linejoin="round" stroke-linecap="round" stroke-linecap="butt"/>
<polyline points="1003.8,298.8 1357.5,316.2" fill="none" stroke="#e92128" stroke-width="6.8" stroke-linejoin="round" stroke-linecap="round" stroke-linecap="butt"/>
<polyline points="1365,354 1780,376" fill="none" stroke="#e92128" stroke-width="6.8" stroke-linejoin="round" stroke-linecap="round" stroke-linecap="butt"/>
<polyline points="980.3,477.3 973.5,584.7" fill="none" stroke="#e92128" stroke-width="6.8" stroke-linejoin="round" stroke-linecap="round" stroke-linecap="butt"/>
<polyline points="684.3,181 684.3,262" fill="none" stroke="#111" stroke-width="1.6" stroke-linejoin="round" stroke-linecap="round"/>
<polyline points="1793,225 1793,302.5" fill="none" stroke="#111" stroke-width="1.6" stroke-linejoin="round" stroke-linecap="round"/>
<polyline points="1889,209 1889,287.5" fill="none" stroke="#111" stroke-width="1.6" stroke-linejoin="round" stroke-linecap="round"/>
<polyline points="1850.5,249 1930.5,251" fill="none" stroke="#111" stroke-width="1.6" stroke-linejoin="round" stroke-linecap="round"/>
<polyline points="1818,646.5 1932,649" fill="none" stroke="#111" stroke-width="1.6" stroke-linejoin="round" stroke-linecap="round"/>
<polyline points="762.2,569.2 973.5,585.5" fill="none" stroke="#111" stroke-width="1.6" stroke-linejoin="round" stroke-linecap="round"/>
<text transform="translate(1218.9,173) rotate(2.7)" y="17.5" font-size="50.7" text-anchor="middle" textLength="156.1" lengthAdjust="spacingAndGlyphs"><tspan font-weight="bold">180</tspan><tspan font-weight="normal" stroke="#fff" stroke-width="1.1">cm</tspan></text>
<text transform="translate(814,304) rotate(90)" y="18" font-size="52.2" text-anchor="middle" textLength="128.8" lengthAdjust="spacingAndGlyphs"><tspan font-weight="bold">14</tspan><tspan font-weight="normal" stroke="#fff" stroke-width="1.1">cm</tspan></text>
<text transform="translate(910.3,292.4) rotate(1.6)" y="17.4" font-size="50.3" text-anchor="middle" textLength="131.5" lengthAdjust="spacingAndGlyphs"><tspan font-weight="bold">58</tspan><tspan font-weight="normal" stroke="#fff" stroke-width="1.1">cm</tspan></text>
<text transform="translate(1203.4,282.1) rotate(2.2)" y="17.5" font-size="50.7" text-anchor="middle" textLength="132.6" lengthAdjust="spacingAndGlyphs"><tspan font-weight="bold">57</tspan><tspan font-weight="normal" stroke="#fff" stroke-width="1.1">cm</tspan></text>
<text transform="translate(1589.9,339) rotate(2.3)" y="17.5" font-size="50.7" text-anchor="middle" textLength="132.6" lengthAdjust="spacingAndGlyphs"><tspan font-weight="bold">58</tspan><tspan font-weight="normal" stroke="#fff" stroke-width="1.1">cm</tspan></text>
<text transform="translate(1011.7,546) rotate(90)" y="18.5" font-size="53.6" text-anchor="middle" textLength="127" lengthAdjust="spacingAndGlyphs"><tspan font-weight="bold">19</tspan><tspan font-weight="normal" stroke="#fff" stroke-width="1.1">cm</tspan></text>
<text transform="translate(1840.8,184.7) rotate(-8.1)" y="17.5" font-size="50.7" text-anchor="middle" textLength="134.6" lengthAdjust="spacingAndGlyphs"><tspan font-weight="bold">39</tspan><tspan font-weight="normal" stroke="#fff" stroke-width="1.1">cm</tspan></text>
<text transform="translate(1960.4,442.5) rotate(90)" y="17.9" font-size="51.9" text-anchor="middle" textLength="133.7" lengthAdjust="spacingAndGlyphs"><tspan font-weight="bold">53</tspan><tspan font-weight="normal" stroke="#fff" stroke-width="1.1">cm</tspan></text>
<polyline points="572.5,406 1059,419" fill="none" stroke="#111" stroke-width="1.6" stroke-linejoin="round" stroke-linecap="round"/>
<polyline points="947.5,377.5 2065.5,612.5" fill="none" stroke="#111" stroke-width="1.6" stroke-linejoin="round" stroke-linecap="round"/>
<polyline points="1703,440 2065.5,612.5" fill="none" stroke="#111" stroke-width="1.6" stroke-linejoin="round" stroke-linecap="round"/>
<polyline points="641,1155 642.5,1380" fill="none" stroke="#111" stroke-width="1.6" stroke-linejoin="round" stroke-linecap="round"/>
<polyline points="641,1155 1077.5,1404" fill="none" stroke="#111" stroke-width="1.6" stroke-linejoin="round" stroke-linecap="round"/>
<polyline points="1038.8,1080 961.2,1405" fill="none" stroke="#111" stroke-width="1.6" stroke-linejoin="round" stroke-linecap="round"/>
<polyline points="325,1281.2 402.5,1266.2 1242.5,1291" fill="none" stroke="#e92128" stroke-width="6.8" stroke-linejoin="round" stroke-linecap="round" stroke-linecap="butt"/>
<polyline points="280,1333.8 282.5,1792.5" fill="none" stroke="#e92128" stroke-width="6.8" stroke-linejoin="round" stroke-linecap="round" stroke-linecap="butt"/>
<polyline points="602.5,1446.2 605,1580" fill="none" stroke="#e92128" stroke-width="6.8" stroke-linejoin="round" stroke-linecap="round" stroke-linecap="butt"/>
<polyline points="422.5,1646.2 735,1627.5" fill="none" stroke="#e92128" stroke-width="6.8" stroke-linejoin="round" stroke-linecap="round" stroke-linecap="butt"/>
<polyline points="747.5,1562.5 1002.5,1546" fill="none" stroke="#e92128" stroke-width="6.8" stroke-linejoin="round" stroke-linecap="round" stroke-linecap="butt"/>
<polyline points="764,1580 766,1713" fill="none" stroke="#e92128" stroke-width="6.8" stroke-linejoin="round" stroke-linecap="round" stroke-linecap="butt"/>
<polyline points="1042.5,1530 1148,1545" fill="none" stroke="#e92128" stroke-width="6.8" stroke-linejoin="round" stroke-linecap="round" stroke-linecap="butt"/>
<polyline points="1020,1604 1231.5,1589" fill="none" stroke="#e92128" stroke-width="6.8" stroke-linejoin="round" stroke-linecap="round" stroke-linecap="butt"/>
<polyline points="621.3,1749.5 618.2,1871.6" fill="none" stroke="#e92128" stroke-width="6.8" stroke-linejoin="round" stroke-linecap="round" stroke-linecap="butt"/>
<polyline points="326.2,1282.5 326.2,1345" fill="none" stroke="#111" stroke-width="1.6" stroke-linejoin="round" stroke-linecap="round"/>
<polyline points="402.5,1268.8 402.5,1342.5" fill="none" stroke="#111" stroke-width="1.6" stroke-linejoin="round" stroke-linecap="round"/>
<polyline points="1242.5,1292.5 1242.5,1352.5" fill="none" stroke="#111" stroke-width="1.6" stroke-linejoin="round" stroke-linecap="round"/>
<polyline points="277.5,1332.5 342.5,1321.2" fill="none" stroke="#111" stroke-width="1.6" stroke-linejoin="round" stroke-linecap="round"/>
<polyline points="280,1792.5 384,1844.5" fill="none" stroke="#111" stroke-width="1.6" stroke-linejoin="round" stroke-linecap="round"/>
<polyline points="454,1892 621.3,1873" fill="none" stroke="#111" stroke-width="1.6" stroke-linejoin="round" stroke-linecap="round"/>
<text transform="translate(368.3,1241.3) rotate(-11)" y="17.3" font-size="50.1" text-anchor="middle" textLength="134.5" lengthAdjust="spacingAndGlyphs"><tspan font-weight="bold">39</tspan><tspan font-weight="normal" stroke="#fff" stroke-width="1.1">cm</tspan></text>
<text transform="translate(877.5,1250.6) rotate(2)" y="17.3" font-size="50.1" text-anchor="middle" textLength="157" lengthAdjust="spacingAndGlyphs"><tspan font-weight="bold">160</tspan><tspan font-weight="normal" stroke="#fff" stroke-width="1.1">cm</tspan></text>
<text transform="translate(252,1560) rotate(-90)" y="17.5" font-size="50.7" text-anchor="middle" textLength="132.6" lengthAdjust="spacingAndGlyphs"><tspan font-weight="bold">84</tspan><tspan font-weight="normal" stroke="#fff" stroke-width="1.1">cm</tspan></text>
<text transform="translate(633,1524) rotate(90)" y="18" font-size="52.2" text-anchor="middle" textLength="138.8" lengthAdjust="spacingAndGlyphs"><tspan font-weight="bold">22</tspan><tspan font-weight="normal" stroke="#fff" stroke-width="1.1">cm</tspan></text>
<text transform="translate(589,1609) rotate(-3.5)" y="17.5" font-size="50.7" text-anchor="middle" textLength="138.6" lengthAdjust="spacingAndGlyphs"><tspan font-weight="bold">51</tspan><tspan font-weight="normal" stroke="#fff" stroke-width="1.1">cm</tspan></text>
<text transform="translate(875,1527) rotate(-3.5)" y="17.5" font-size="50.7" text-anchor="middle" textLength="137.6" lengthAdjust="spacingAndGlyphs"><tspan font-weight="bold">50</tspan><tspan font-weight="normal" stroke="#fff" stroke-width="1.1">cm</tspan></text>
<text transform="translate(794,1655) rotate(90)" y="18.5" font-size="53.6" text-anchor="middle" textLength="138" lengthAdjust="spacingAndGlyphs"><tspan font-weight="bold">21</tspan><tspan font-weight="normal" stroke="#fff" stroke-width="1.1">cm</tspan></text>
<text transform="translate(1110,1513) rotate(7)" y="17.5" font-size="50.7" text-anchor="middle" textLength="139.6" lengthAdjust="spacingAndGlyphs"><tspan font-weight="bold">33</tspan><tspan font-weight="normal" stroke="#fff" stroke-width="1.1">cm</tspan></text>
<text transform="translate(1140,1569) rotate(-3.5)" y="18" font-size="52.2" text-anchor="middle" textLength="138.8" lengthAdjust="spacingAndGlyphs"><tspan font-weight="bold">51</tspan><tspan font-weight="normal" stroke="#fff" stroke-width="1.1">cm</tspan></text>
<text transform="translate(651,1822) rotate(90)" y="18" font-size="52.2" text-anchor="middle" textLength="128.8" lengthAdjust="spacingAndGlyphs"><tspan font-weight="bold">19</tspan><tspan font-weight="normal" stroke="#fff" stroke-width="1.1">cm</tspan></text>
<polyline points="1603.8,998.4 2230.3,966.6 2307.6,993" fill="none" stroke="#e92128" stroke-width="6.8" stroke-linejoin="round" stroke-linecap="round" stroke-linecap="butt"/>
<polyline points="1561,1025.6 1561,1797.8" fill="none" stroke="#e92128" stroke-width="6.8" stroke-linejoin="round" stroke-linecap="round" stroke-linecap="butt"/>
<polyline points="1752,1025.6 1752,1235" fill="none" stroke="#e92128" stroke-width="6.8" stroke-linejoin="round" stroke-linecap="round" stroke-linecap="butt"/>
<polyline points="1610,1208.7 2041,1193.6" fill="none" stroke="#e92128" stroke-width="6.8" stroke-linejoin="round" stroke-linecap="round" stroke-linecap="butt"/>
<polyline points="2053,1101 2218,1090.7" fill="none" stroke="#e92128" stroke-width="6.8" stroke-linejoin="round" stroke-linecap="round" stroke-linecap="butt"/>
<polyline points="1760.4,1249 1764.5,1430" fill="none" stroke="#e92128" stroke-width="6.8" stroke-linejoin="round" stroke-linecap="round" stroke-linecap="butt"/>
<polyline points="1766.5,1288 2218,1280" fill="none" stroke="#e92128" stroke-width="6.8" stroke-linejoin="round" stroke-linecap="round" stroke-linecap="butt"/>
<polyline points="1614,1345 1758,1345" fill="none" stroke="#e92128" stroke-width="6.8" stroke-linejoin="round" stroke-linecap="round" stroke-linecap="butt"/>
<polyline points="1850,1433.7 1898.7,1423.5" fill="none" stroke="#e92128" stroke-width="6.8" stroke-linejoin="round" stroke-linecap="round" stroke-linecap="butt"/>
<polyline points="1614,1505 1762.4,1492.7" fill="none" stroke="#e92128" stroke-width="6.8" stroke-linejoin="round" stroke-linecap="round" stroke-linecap="butt"/>
<polyline points="1905,1446 1907,1560" fill="none" stroke="#e92128" stroke-width="6.8" stroke-linejoin="round" stroke-linecap="round" stroke-linecap="butt"/>
<polyline points="1905,1568 1903,1714.4" fill="none" stroke="#e92128" stroke-width="6.8" stroke-linejoin="round" stroke-linecap="round" stroke-linecap="butt"/>
<polyline points="1903,1568 2218,1584" fill="none" stroke="#e92128" stroke-width="6.8" stroke-linejoin="round" stroke-linecap="round" stroke-linecap="butt"/>
<polyline points="1876,1728.7 1868,1832" fill="none" stroke="#e92128" stroke-width="6.8" stroke-linejoin="round" stroke-linecap="round" stroke-linecap="butt"/>
<polyline points="1603.8,999 1603.8,1048" fill="none" stroke="#111" stroke-width="1.6" stroke-linejoin="round" stroke-linecap="round"/>
<polyline points="2230.3,968.7 2230.3,1031.7" fill="none" stroke="#111" stroke-width="1.6" stroke-linejoin="round" stroke-linecap="round"/>
<polyline points="2307.6,995 2307.6,1048" fill="none" stroke="#111" stroke-width="1.6" stroke-linejoin="round" stroke-linecap="round"/>
<polyline points="1559,1025.6 1626,1021.5" fill="none" stroke="#111" stroke-width="1.6" stroke-linejoin="round" stroke-linecap="round"/>
<polyline points="1561,1800 1656.6,1814" fill="none" stroke="#111" stroke-width="1.6" stroke-linejoin="round" stroke-linecap="round"/>
<polyline points="1656.6,1814 1868,1832" fill="none" stroke="#111" stroke-width="1.6" stroke-linejoin="round" stroke-linecap="round"/>
<text transform="translate(1896.7,954.9) rotate(-3.1)" y="17" font-size="49.3" text-anchor="middle" textLength="159.4" lengthAdjust="spacingAndGlyphs"><tspan font-weight="bold">108</tspan><tspan font-weight="normal" stroke="#fff" stroke-width="1.1">cm</tspan></text>
<text transform="translate(2296.5,959.6) rotate(18.7)" y="17" font-size="49.3" text-anchor="middle" textLength="138.4" lengthAdjust="spacingAndGlyphs"><tspan font-weight="bold">39</tspan><tspan font-weight="normal" stroke="#fff" stroke-width="1.1">cm</tspan></text>
<text transform="translate(1528,1365) rotate(-90)" y="17.9" font-size="51.9" text-anchor="middle" textLength="158.7" lengthAdjust="spacingAndGlyphs"><tspan font-weight="bold">130</tspan><tspan font-weight="normal" stroke="#fff" stroke-width="1.1">cm</tspan></text>
<text transform="translate(1785,1118) rotate(90)" y="18" font-size="52.2" text-anchor="middle" textLength="134.8" lengthAdjust="spacingAndGlyphs"><tspan font-weight="bold">31</tspan><tspan font-weight="normal" stroke="#fff" stroke-width="1.1">cm</tspan></text>
<text transform="translate(1882.9,1168.5) rotate(-1.5)" y="17" font-size="49.3" text-anchor="middle" textLength="132.4" lengthAdjust="spacingAndGlyphs"><tspan font-weight="bold">75</tspan><tspan font-weight="normal" stroke="#fff" stroke-width="1.1">cm</tspan></text>
<text transform="translate(2145.4,1062.5) rotate(-2.1)" y="17.5" font-size="50.7" text-anchor="middle" textLength="132.6" lengthAdjust="spacingAndGlyphs"><tspan font-weight="bold">27</tspan><tspan font-weight="bold">cm</tspan></text>
<text transform="translate(1995.5,1253) rotate(-0.5)" y="17.4" font-size="50.3" text-anchor="middle" textLength="131.5" lengthAdjust="spacingAndGlyphs"><tspan font-weight="bold">75</tspan><tspan font-weight="normal" stroke="#fff" stroke-width="1.1">cm</tspan></text>
<text transform="translate(1689,1315.6) rotate(0)" y="17.8" font-size="51.4" text-anchor="middle" textLength="134.7" lengthAdjust="spacingAndGlyphs"><tspan font-weight="bold">27</tspan><tspan font-weight="normal" stroke="#fff" stroke-width="1.1">cm</tspan></text>
<text transform="translate(1796.9,1367.7) rotate(90)" y="17.9" font-size="51.9" text-anchor="middle" textLength="133.7" lengthAdjust="spacingAndGlyphs"><tspan font-weight="bold">31</tspan><tspan font-weight="normal" stroke="#fff" stroke-width="1.1">cm</tspan></text>
<text transform="translate(1892.8,1393.3) rotate(-12.8)" y="17.4" font-size="50.4" text-anchor="middle" textLength="135.6" lengthAdjust="spacingAndGlyphs"><tspan font-weight="bold">33</tspan><tspan font-weight="normal" stroke="#fff" stroke-width="1.1">cm</tspan></text>
<text transform="translate(1691.3,1469.3) rotate(-3.6)" y="17.5" font-size="50.7" text-anchor="middle" textLength="132.6" lengthAdjust="spacingAndGlyphs"><tspan font-weight="bold">35</tspan><tspan font-weight="normal" stroke="#fff" stroke-width="1.1">cm</tspan></text>
<text transform="translate(1936.5,1507.8) rotate(90)" y="18.2" font-size="52.8" text-anchor="middle" textLength="131.9" lengthAdjust="spacingAndGlyphs"><tspan font-weight="bold">19</tspan><tspan font-weight="normal" stroke="#fff" stroke-width="1.1">cm</tspan></text>
<text transform="translate(1936.5,1647.9) rotate(90)" y="18.2" font-size="52.8" text-anchor="middle" textLength="131.9" lengthAdjust="spacingAndGlyphs"><tspan font-weight="bold">21</tspan><tspan font-weight="normal" stroke="#fff" stroke-width="1.1">cm</tspan></text>
<text transform="translate(2076,1550.5) rotate(2)" y="17.5" font-size="50.7" text-anchor="middle" textLength="134.1" lengthAdjust="spacingAndGlyphs"><tspan font-weight="bold">51</tspan><tspan font-weight="normal" stroke="#fff" stroke-width="1.1">cm</tspan></text>
<text transform="translate(1900,1800) rotate(90)" y="18" font-size="52.2" text-anchor="middle" textLength="132.8" lengthAdjust="spacingAndGlyphs"><tspan font-weight="bold">19</tspan><tspan font-weight="normal" stroke="#fff" stroke-width="1.1">cm</tspan></text>
</g>
</svg></body></html>
